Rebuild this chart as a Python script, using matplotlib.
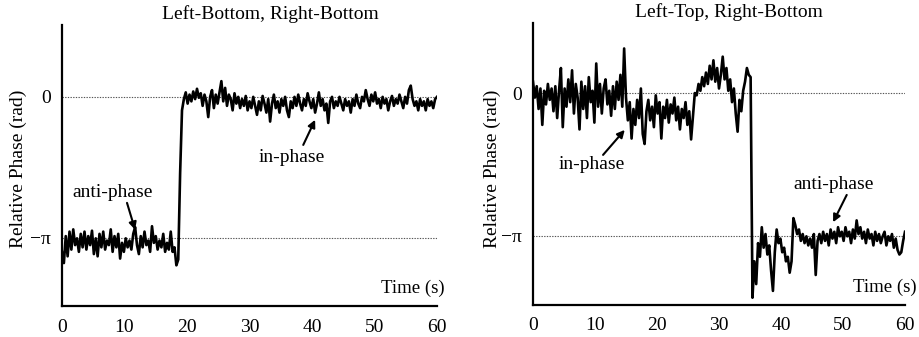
import numpy as np
import matplotlib
matplotlib.use("Agg")
import matplotlib.pyplot as plt

plt.rcParams['font.family'] = ['Liberation Serif', 'DejaVu Serif']
plt.rcParams['mathtext.fontset'] = 'stix'

# ---------------- data (relative phase in rad, sampled every 0.3 s from 0 to 60 s) ----------------
left_anti = [-3.45, -3.70, -3.10, -3.55, -3.00, -3.40, -2.95, -3.30, -3.15, -3.45,
             -3.05, -3.35, -3.00, -3.40, -3.10, -3.30, -2.98, -3.50, -3.15, -3.55,
             -3.05, -3.35, -3.00, -3.40, -3.20, -3.30, -2.95, -3.45, -3.10, -3.35,
             -3.05, -3.60, -3.25, -3.45, -3.15, -3.35, -3.20, -3.40, -3.05, -2.90,
             -3.30, -3.50, -3.10, -3.35, -3.00, -3.30, -3.20, -3.45, -2.88, -3.25,
             -3.10, -3.40, -3.20, -3.35, -3.05, -3.45, -3.25, -3.40, -3.00, -3.45,
             -3.35, -3.75, -3.62]
left_switch = [-1.70, -0.30]
left_in = [-0.05, 0.10, -0.15, 0.05, -0.10, 0.12, -0.05, 0.18, -0.02, 0.08,
           -0.20, 0.05, -0.10, -0.45, 0.00, 0.15, -0.25, 0.05, -0.15, 0.10,
           0.35, -0.10, 0.20, -0.20, 0.05, -0.05, -0.30, 0.08, -0.15, 0.00,
           -0.25, -0.05, -0.20, 0.02, -0.30, -0.10, -0.25, 0.00, -0.20, -0.40,
           -0.10, -0.30, 0.02, -0.15, -0.35, -0.05, -0.55, -0.15, 0.05, -0.25,
           -0.10, -0.35, -0.05, -0.20, 0.00, -0.30, -0.45, -0.10, -0.25, 0.00,
           -0.20, 0.05, -0.15, -0.30, -0.05, -0.20, 0.08, -0.10, -0.25, -0.05,
           -0.35, -0.15, 0.10, -0.20, -0.05, -0.30, -0.15, -0.58, -0.10, 0.00,
           -0.25, -0.10, -0.20, 0.00, -0.15, -0.30, -0.05, -0.20, -0.10, -0.35,
           -0.05, -0.20, 0.05, -0.15, -0.25, 0.00, -0.10, 0.15, -0.05, -0.20,
           0.05, -0.10, 0.10, -0.15, -0.05, -0.25, 0.00, -0.15, -0.05, -0.30,
           -0.10, 0.02, -0.20, -0.05, -0.15, 0.05, -0.10, -0.25, 0.00, -0.15,
           0.15, 0.25, -0.05, -0.20, -0.10, -0.30, -0.05, -0.20, -0.10, -0.30,
           -0.05, -0.20, -0.10, -0.25, -0.05, 0.00]

right_in = [0.25, -0.10, 0.15, -0.35, 0.10, -0.70, 0.05, -0.25, 0.20, -0.15,
            0.10, -0.40, 0.15, -0.55, 0.05, 0.55, -0.75, 0.10, -0.30, 0.30,
            -0.20, 0.50, -0.45, 0.20, -0.10, -0.80, 0.25, -0.35, 0.15, -0.55,
            0.35, -0.20, 0.05, -0.65, 0.65, -0.30, 0.20, -0.45, 0.10, 0.30,
            -0.25, 0.05, -0.50, 0.15, -0.35, 0.25, -0.15, 0.40, -0.30, 0.98,
            -0.10, -0.60, -0.20, -1.00, -0.35, -0.70, -0.15, -0.55, 0.10, -0.90,
            -1.12, -0.40, -0.15, -0.60, -0.30, -0.75, -0.05, -0.45, -0.20, -1.00,
            -0.30, -0.55, -0.15, -0.65, -0.25, -0.45, -0.10, -0.60, -0.30, -0.80,
            -0.35, -0.55, -0.20, -0.70, -0.40, -1.02, -0.50, 0.00, -0.05, 0.20,
            0.05, 0.35, 0.15, 0.45, 0.20, 0.60, 0.30, 0.72, 0.25, 0.55,
            0.10, 0.40, 0.80, 0.30, 0.55, 0.05, 0.30, -0.20, 0.10, -0.45,
            -0.85, -0.15, -0.40, 0.05, 0.25, 0.55, 0.40, 0.35]
right_anti = [-4.50, -3.70, -4.20, -3.30, -3.60, -2.95, -3.40, -3.10, -3.55, -3.35,
              -3.90, -4.35, -3.50, -3.00, -3.30, -3.20, -3.50, -3.40, -3.70, -3.60,
              -3.95, -3.70, -2.75, -2.90, -3.10, -3.00, -3.25, -3.10, -3.30, -3.15,
              -3.35, -3.20, -3.40, -3.10, -4.00, -3.25, -3.10, -3.30, -3.05, -3.25,
              -3.10, -3.35, -3.00, -3.20, -3.05, -3.30, -2.95, -3.15, -3.05, -3.25,
              -2.95, -3.15, -3.05, -3.30, -3.00, -3.20, -2.80, -3.10, -2.95, -3.20,
              -3.05, -3.30, -3.00, -3.20, -3.10, -3.35, -3.05, -3.25, -3.10, -3.30,
              -3.15, -3.05, -3.35, -3.15, -3.25, -3.10, -3.40, -3.20, -3.45, -3.55,
              -3.50, -3.25, -3.05]

left_series = left_anti + left_switch + left_in
right_series = right_in + right_anti

titles = ["Left-Bottom, Right-Bottom", "Left-Top, Right-Bottom"]
xticks = [0, 10, 20, 30, 40, 50, 60]
yticks = [-np.pi, 0]
yticklabels = ["\u2212\u03c0", "0"]

# annotations: (label, text pos, arrow tail, arrow head)
left_notes = [("anti-phase", (8.1, -2.12), (10.4, -2.36), (11.7, -2.96)),
              ("in-phase", (36.8, -1.34), (38.6, -1.07), (40.5, -0.51))]
right_notes = [("in-phase", (9.5, -1.58), (11.3, -1.36), (14.8, -0.81)),
               ("anti-phase", (48.4, -2.02), (50.6, -2.24), (48.4, -2.84))]

fig = plt.figure(figsize=(9.2, 3.37), dpi=100)
ax_l = fig.add_axes([62/920, 1-306/337, 375/920, 281/337])
ax_r = fig.add_axes([533/920, 1-305/337, 372/920, 282/337])

panels = [(ax_l, left_series, titles[0], left_notes, (-4.656, 1.60), 0.555, 1.021, 18/920),
          (ax_r, right_series, titles[1], right_notes, (-4.66, 1.54), 0.527, 1.032, 492/920)]

for ax, series, title, notes, ylim, tx, timex, ylx in panels:
    vals = np.array(series)
    t = np.linspace(0, 60, len(vals))
    for ref in yticks:
        ax.plot([0, 60], [ref, ref], linestyle=(0, (1.2, 1.2)), color='#555555', lw=0.8, zorder=1)
    ax.plot(t, vals, color='black', lw=1.9, zorder=2)
    ax.set_xlim(0, 60)
    ax.set_ylim(*ylim)
    ax.set_xticks(xticks)
    ax.set_xticklabels([str(v) for v in xticks])
    ax.set_yticks(yticks)
    ax.set_yticklabels(yticklabels)
    ax.tick_params(length=0, labelsize=14, pad=9)
    ax.tick_params(axis='y', pad=8)
    for s in ['top', 'right']:
        ax.spines[s].set_visible(False)
    for s in ['left', 'bottom']:
        ax.spines[s].set_linewidth(1.6)
        ax.spines[s].set_color('black')
    ax.text(tx, 1.0 + 11/281, title, transform=ax.transAxes, ha='center', va='center', fontsize=14)
    ax.text(timex, 0.064, "Time (s)", transform=ax.transAxes, ha='right', va='center', fontsize=13.5)
    for label, tpos, tail, head in notes:
        ax.text(tpos[0], tpos[1], label, ha='center', va='center', fontsize=14)
        ax.annotate('', xy=head, xytext=tail,
                    arrowprops=dict(arrowstyle='-|>', color='black', lw=1.5, mutation_scale=11,
                                    shrinkA=0, shrinkB=0))
    fig.text(ylx, 0.5, "Relative Phase (rad)", rotation=90, ha='center', va='center', fontsize=14)

fig.savefig("out.png", dpi=100)
